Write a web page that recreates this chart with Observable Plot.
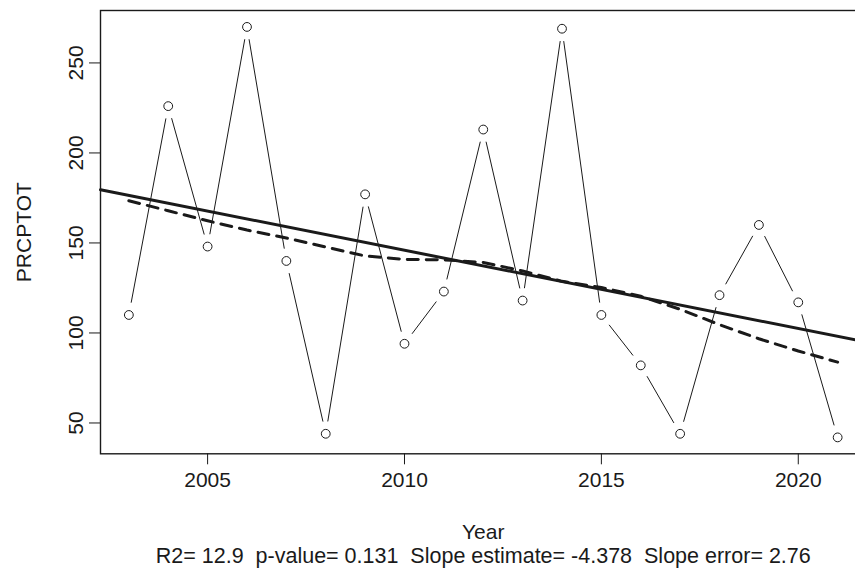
<!DOCTYPE html>
<html>
<head>
<meta charset="utf-8">
<script src="https://cdn.jsdelivr.net/npm/d3@7"></script>
<script src="https://cdn.jsdelivr.net/npm/@observablehq/plot@0.6"></script>
<style>
  html, body { margin: 0; padding: 0; background: #fff; overflow: hidden; }
</style>
</head>
<body>
<div id="chart"></div>
<script>
// ---- data ----
const years = [2003, 2004, 2005, 2006, 2007, 2008, 2009, 2010, 2011, 2012, 2013, 2014, 2015, 2016, 2017, 2018, 2019, 2020, 2021];
const prcptot = [110, 226, 148, 270, 140, 44, 177, 94, 123, 213, 118, 269, 110, 82, 44, 121, 160, 117, 42];
const xTicks = [2005, 2010, 2015, 2020];
const yTicks = [50, 100, 150, 200, 250];
const xLabel = "Year";
const yLabel = "PRCPTOT";
const statsText = "R2= 12.9  p-value= 0.131  Slope estimate= -4.378  Slope error= 2.76";

// ---- layout ----
const W = 855, H = 569;
const ML = 100, MT = 10, MB = 115.7, MR = -10.5;
const FONT = "'Liberation Sans', Arial, Helvetica, sans-serif";
const INK = "#1a1a1a";

const data = years.map((year, i) => ({year, value: prcptot[i]}));

// R-style axis domains (4% padding on each side)
function rDomain(v) {
  const [lo, hi] = d3.extent(v);
  const pad = 0.04 * (hi - lo);
  return [lo - pad, hi + pad];
}
const xDom = rDomain(years);
const yDom = rDomain(prcptot);
const xRange = [ML, W - MR];
const yRange = [H - MB, MT];

const xs = Plot.scale({x: {type: "linear", domain: xDom, range: xRange}});
const ys = Plot.scale({y: {type: "linear", domain: yDom, range: yRange}});

// ---- type="b": segments with gaps around the points ----
const GAP = 12.5;
const segs = [];
for (let i = 0; i < data.length - 1; i++) {
  const x0 = xs.apply(data[i].year), y0 = ys.apply(data[i].value);
  const x1 = xs.apply(data[i + 1].year), y1 = ys.apply(data[i + 1].value);
  const d = Math.hypot(x1 - x0, y1 - y0);
  if (d <= 2 * GAP) continue;
  const ux = (x1 - x0) / d, uy = (y1 - y0) / d;
  segs.push({
    x1: xs.invert(x0 + ux * GAP), y1: ys.invert(y0 + uy * GAP),
    x2: xs.invert(x1 - ux * GAP), y2: ys.invert(y1 - uy * GAP)
  });
}

// ---- least squares line (abline across the full plot region) ----
const mx = d3.mean(years), my = d3.mean(prcptot);
let sxy = 0, sxx = 0;
years.forEach((x, i) => { sxy += (x - mx) * (prcptot[i] - my); sxx += (x - mx) ** 2; });
const slope = sxy / sxx, intercept = my - slope * mx;
const fitLine = [xDom[0], xDom[1]].map(x => ({year: x, value: intercept + slope * x}));

// ---- R lowess (f = 2/3, iter = 3) ----
function lowess(x, y, f = 2 / 3, nsteps = 3) {
  const n = x.length;
  const X = [0, ...x], Y = [0, ...y];
  const YS = new Array(n + 1).fill(0);
  const rw = new Array(n + 1).fill(1);
  const w = new Array(n + 1).fill(0);
  const delta = 0.01 * (x[n - 1] - x[0]);
  const ns = Math.max(2, Math.min(n, Math.floor(f * n + 1e-7)));
  function lowest(xv, nleft, nright, userw) {
    const range = X[n] - X[1];
    const h = Math.max(xv - X[nleft], X[nright] - xv);
    const h9 = 0.999 * h, h1 = 0.001 * h;
    let a = 0, j = nleft;
    while (j <= n) {
      w[j] = 0;
      const r = Math.abs(X[j] - xv);
      if (r <= h9) {
        w[j] = r <= h1 ? 1 : Math.pow(1 - Math.pow(r / h, 3), 3);
        if (userw) w[j] *= rw[j];
        a += w[j];
      } else if (X[j] > xv) break;
      j++;
    }
    const nrt = j - 1;
    if (a <= 0) return null;
    for (j = nleft; j <= nrt; j++) w[j] /= a;
    if (h > 0) {
      a = 0;
      for (j = nleft; j <= nrt; j++) a += w[j] * X[j];
      let b = xv - a, c = 0;
      for (j = nleft; j <= nrt; j++) c += w[j] * (X[j] - a) * (X[j] - a);
      if (Math.sqrt(c) > 0.001 * range) {
        b /= c;
        for (j = nleft; j <= nrt; j++) w[j] *= (b * (X[j] - a) + 1);
      }
    }
    let s = 0;
    for (j = nleft; j <= nrt; j++) s += w[j] * Y[j];
    return s;
  }
  let iter = 1;
  while (iter <= nsteps + 1) {
    let nleft = 1, nright = ns, last = 0, i = 1;
    for (;;) {
      if (nright < n) {
        const d1 = X[i] - X[nleft], d2 = X[nright + 1] - X[i];
        if (d1 > d2) { nleft++; nright++; continue; }
      }
      const v = lowest(X[i], nleft, nright, iter > 1);
      YS[i] = v === null ? Y[i] : v;
      if (last < i - 1) {
        const denom = X[i] - X[last];
        for (let j = last + 1; j < i; j++) {
          const alpha = (X[j] - X[last]) / denom;
          YS[j] = alpha * YS[i] + (1 - alpha) * YS[last];
        }
      }
      last = i;
      const cut = X[last] + delta;
      for (i = last + 1; i <= n; i++) {
        if (X[i] > cut) break;
        if (X[i] === X[last]) { YS[i] = YS[last]; last = i; }
      }
      i = Math.max(last + 1, i - 1);
      if (last >= n) break;
    }
    const res = [];
    for (let k = 1; k <= n; k++) res[k] = Y[k] - YS[k];
    let sc = 0;
    for (let k = 1; k <= n; k++) sc += Math.abs(res[k]);
    sc /= n;
    if (iter > nsteps) break;
    const abs = res.slice(1).map(Math.abs).sort((p, q) => p - q);
    const m1 = Math.floor(n / 2);
    let cmad;
    if (n % 2 === 0) { const m2 = n - m1 - 1; cmad = 3 * (abs[m1] + abs[m2]); }
    else cmad = 6 * abs[m1];
    if (cmad < 1e-7 * sc) break;
    const c9 = 0.999 * cmad, c1 = 0.001 * cmad;
    for (let k = 1; k <= n; k++) {
      const r = Math.abs(res[k]);
      rw[k] = r <= c1 ? 1 : r <= c9 ? (1 - (r / cmad) ** 2) ** 2 : 0;
    }
    iter++;
  }
  return YS.slice(1);
}
const smooth = lowess(years, prcptot);
const smoothLine = years.map((year, i) => ({year, value: smooth[i]}));

const xMid = d3.mean(xDom);
const yMid = d3.mean(yDom);

const chart = Plot.plot({
  width: W,
  height: H,
  marginLeft: ML,
  marginRight: MR,
  marginTop: MT,
  marginBottom: MB,
  style: {fontFamily: FONT, fontSize: "21px", color: INK, background: "#fff", overflow: "hidden"},
  x: {type: "linear", domain: xDom, range: xRange, axis: null},
  y: {type: "linear", domain: yDom, range: yRange, axis: null},
  marks: [
    // data series (type = "b")
    Plot.link(segs, {x1: "x1", y1: "y1", x2: "x2", y2: "y2", stroke: INK, strokeWidth: 1}),
    Plot.dot(data, {x: "year", y: "value", r: 4.4, stroke: INK, strokeWidth: 1, fill: "none"}),
    // linear trend
    Plot.line(fitLine, {x: "year", y: "value", stroke: INK, strokeWidth: 3}),
    // lowess smooth
    Plot.line(smoothLine, {x: "year", y: "value", stroke: INK, strokeWidth: 3, strokeDasharray: "11,8"}),
    // box
    Plot.frame({stroke: INK, strokeWidth: 1.4}),
    // axes ticks
    Plot.axisX({ticks: xTicks, tickSize: 11, tickPadding: 7, fontSize: 21, label: null, stroke: INK, color: INK, tickFormat: d => String(d)}),
    Plot.axisY({ticks: yTicks, tickSize: 11, tickFormat: () => "", label: null, stroke: INK}),
    // y tick labels (rotated, R style)
    Plot.text(yTicks, {y: d => d, frameAnchor: "left", dx: -18, rotate: -90, textAnchor: "middle", lineAnchor: "bottom", fontSize: 21, fill: INK, text: d => String(d)}),
    // axis titles
    Plot.text([yLabel], {y: () => yMid, frameAnchor: "left", dx: -69.5, rotate: -90, textAnchor: "middle", lineAnchor: "bottom", fontSize: 21, fill: INK, text: d => d}),
    Plot.text([xLabel], {x: () => xMid, frameAnchor: "bottom", dy: 85, textAnchor: "middle", lineAnchor: "bottom", fontSize: 21, fill: INK, text: d => d}),
    Plot.text([statsText], {x: () => xMid, frameAnchor: "bottom", dy: 109.5, textAnchor: "middle", lineAnchor: "bottom", fontSize: 21.5, fill: INK, text: d => d})
  ]
});
document.getElementById("chart").appendChild(chart);
</script>
</body>
</html>
